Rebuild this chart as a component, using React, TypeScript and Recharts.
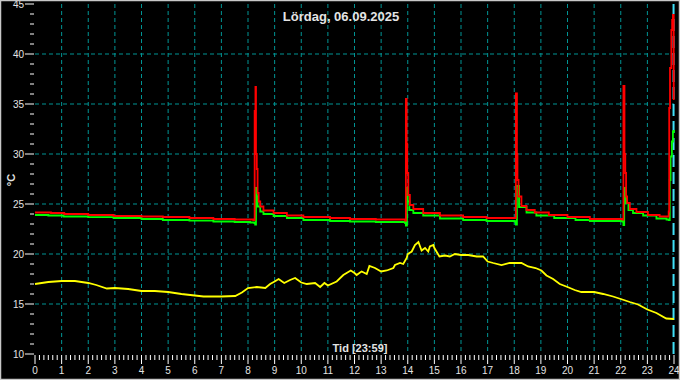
import { CartesianGrid, Line, LineChart, ReferenceLine, XAxis, YAxis } from "recharts";

const HOURS = [0, 1, 2, 3, 4, 5, 6, 7, 8, 9, 10, 11, 12, 13, 14, 15, 16, 17, 18, 19, 20, 21, 22, 23, 24];
const Y_LABELS = [10, 15, 20, 25, 30, 35, 40, 45];
const NOW_HOUR = 23.983;

// outdoor (yellow)
const YELLOW_T = [
  0, 0.25, 0.5, 1, 1.5, 2, 2.3, 2.7, 3, 3.5, 4, 4.5, 5, 5.5, 6, 6.33, 7, 7.52, 7.77, 8, 8.33, 8.65, 8.83,
  9, 9.15, 9.36, 9.58, 9.77, 10, 10.21, 10.52, 10.71, 10.87, 11, 11.33, 11.58, 11.86, 12, 12.08, 12.21,
  12.27, 12.46, 12.56, 12.77, 13, 13.21, 13.46, 13.52, 13.71, 13.83, 13.96, 14, 14.15, 14.27, 14.4, 14.52,
  14.65, 14.77, 14.83, 14.96, 15, 15.19, 15.4, 15.58, 15.77, 16, 16.27, 16.59, 16.83, 17, 17.21, 17.52,
  17.83, 18, 18.27, 18.52, 18.8, 19.02, 19.21, 19.46, 19.71, 20, 20.27, 20.52, 21, 21.34, 21.71, 22, 22.34,
  22.65, 23, 23.34, 23.71, 24,
];
const YELLOW_V = [
  17.0, 17.1, 17.2, 17.3, 17.3, 17.1, 16.9, 16.55, 16.6, 16.5, 16.3, 16.3, 16.2, 16.0, 15.85, 15.75, 15.75,
  15.8, 16.15, 16.6, 16.7, 16.6, 17.0, 17.25, 17.5, 17.1, 17.4, 17.6, 17.15, 17.0, 17.1, 16.7, 17.1, 16.85,
  17.25, 17.9, 18.35, 18.1, 17.9, 18.15, 18.25, 18.0, 18.8, 18.6, 18.25, 18.35, 18.6, 18.9, 19.1, 19.0, 19.6,
  20.0, 20.25, 20.9, 21.2, 20.35, 20.6, 20.25, 20.75, 20.9, 20.6, 19.75, 19.85, 19.75, 20.0, 19.9, 19.9,
  19.75, 19.75, 19.25, 19.1, 18.9, 19.1, 19.1, 19.1, 18.75, 18.6, 18.35, 17.85, 17.5, 17.0, 16.7, 16.4, 16.2,
  16.2, 16.0, 15.75, 15.5, 15.2, 14.95, 14.45, 14.1, 13.55, 13.5,
];

// supply (red)
const RED_T = [
  0, 0.6, 1.1, 2, 2.95, 4, 4.8, 5.8, 6.7, 7.5, 8.2, 8.25, 8.28, 8.3, 8.33, 8.36, 8.4, 8.46, 8.58, 8.96, 9.46,
  10.08, 11.08, 11.83, 12.8, 13.9, 13.93, 13.96, 13.98, 14.02, 14.08, 14.21, 14.58, 15.21, 16.08, 16.96, 18.02,
  18.06, 18.1, 18.12, 18.16, 18.27, 18.46, 18.77, 19.3, 20, 20.84, 21.5, 22.06, 22.1, 22.14, 22.17, 22.2, 22.24,
  22.34, 22.59, 23.02, 23.46, 23.77, 23.8, 23.82, 23.85, 23.9, 23.93, 23.96, 23.99,
];
const RED_V = [
  24.15, 24.1, 24.0, 23.9, 23.8, 23.75, 23.7, 23.6, 23.5, 23.45, 23.4, 34.3, 36.7, 30.0, 28.5, 26.1, 25.25,
  24.75, 24.35, 24.1, 23.85, 23.7, 23.6, 23.5, 23.45, 23.35, 35.5, 31.0, 28.1, 25.9, 24.9, 24.5, 24.1, 23.85,
  23.7, 23.6, 23.6, 36.05, 30.0, 27.4, 25.75, 24.8, 24.4, 24.15, 23.9, 23.7, 23.5, 23.5, 23.45, 36.8, 30.0,
  28.1, 25.75, 25.1, 24.5, 24.2, 23.9, 23.75, 23.75, 24.25, 34.6, 38.6, 42.4, 43.4, 43.9, 35.4,
];

// return (green)
const GREEN_T = [
  0, 0.5, 1.07, 2, 2.95, 4, 4.8, 5.8, 6.7, 7.5, 8.08, 8.24, 8.27, 8.3, 8.33, 8.36, 8.46, 8.58, 8.96, 9.46,
  10.08, 11.08, 11.83, 12.8, 13.9, 13.93, 13.97, 14, 14.06, 14.21, 14.58, 15.21, 16.08, 16.96, 18.02, 18.06,
  18.1, 18.18, 18.46, 18.83, 19.5, 20.3, 20.84, 21.5, 22.06, 22.1, 22.13, 22.2, 22.29, 22.46, 22.84, 23.34,
  23.72, 23.8, 23.84, 23.87, 23.92, 23.96, 24,
];
const GREEN_V = [
  23.9, 23.85, 23.75, 23.68, 23.6, 23.5, 23.4, 23.33, 23.25, 23.2, 23.15, 23.1, 22.95, 26.6, 25.75, 24.75,
  24.25, 24.0, 23.8, 23.6, 23.4, 23.3, 23.25, 23.2, 23.1, 22.85, 26.6, 25.25, 24.4, 24.1, 23.85, 23.55, 23.4,
  23.3, 23.25, 22.95, 26.8, 24.7, 24.15, 23.85, 23.6, 23.4, 23.3, 23.3, 23.25, 22.9, 26.6, 25.1, 24.4, 24.1,
  23.85, 23.55, 23.45, 23.4, 27.4, 29.75, 31.25, 32.25, 32.4,
];

const X_TICKS = HOURS.flatMap((h) => (h === 24 ? [24] : [0, 1, 2, 3, 4, 5].map((k) => h + k / 6)));
const Y_TICKS = Y_LABELS.flatMap((v) => (v === 45 ? [45] : [0, 1, 2, 3, 4].map((k) => v + k)));

const toRows = (t: number[], v: number[]) => t.map((h, i) => ({ h, v: v[i] }));
const yellow = toRows(YELLOW_T, YELLOW_V);
const red = toRows(RED_T, RED_V);
const green = toRows(GREEN_T, GREEN_V);

const GRID = "#009494";
const LABEL = "#e4e4e4";
const FONT = "'Liberation Sans', Arial, sans-serif";

function XTick({ x, y, payload }: any) {
  const major = Math.abs(payload.value - Math.round(payload.value)) < 1e-6;
  return (
    <g>
      <line x1={x} x2={x} y1={y + 1} y2={y + (major ? 10 : 6)} stroke="#ffffff" strokeWidth={1} />
      {major && (
        <text x={x} y={y + 20} textAnchor="middle" fill={LABEL} fontSize={10} fontFamily={FONT}>
          {Math.round(payload.value)}
        </text>
      )}
    </g>
  );
}

function YTick({ x, y, payload }: any) {
  const major = payload.value % 5 === 0;
  return (
    <g>
      <line x1={major ? x - 10 : x - 5} x2={x - 1} y1={y} y2={y} stroke="#ffffff" strokeWidth={1} />
      {major && (
        <text x={x - 11} y={y + 4} textAnchor="end" fill={LABEL} fontSize={10} fontFamily={FONT}>
          {payload.value}
        </text>
      )}
    </g>
  );
}

export default function App() {
  return (
    <div style={{ position: "absolute", left: 0, top: 0, width: 680, height: 380, background: "#000" }}>
      <LineChart width={680} height={380} margin={{ top: 4, right: 6, bottom: 0, left: 0 }}>
        <CartesianGrid
          stroke={GRID}
          strokeDasharray="4 3"
          horizontalValues={[15, 20, 25, 30, 35, 40]}
          verticalValues={HOURS.slice(1, 24)}
        />
        <XAxis
          type="number"
          dataKey="h"
          domain={[0, 24]}
          ticks={X_TICKS}
          interval={0}
          axisLine={false}
          tickLine={false}
          tickSize={0}
          tickMargin={0}
          height={26}
          tick={<XTick />}
          allowDuplicatedCategory={false}
        />
        <YAxis
          type="number"
          domain={[10, 45]}
          ticks={Y_TICKS}
          interval={0}
          axisLine={false}
          tickLine={false}
          tickSize={0}
          tickMargin={0}
          width={35}
          tick={<YTick />}
        />
        <ReferenceLine x={NOW_HOUR} stroke="#40e0f8" strokeWidth={2} strokeDasharray="12 5" />
        <Line data={yellow} dataKey="v" type="linear" stroke="#ffff00" strokeWidth={1.8} dot={false} isAnimationActive={false} />
        <Line data={green} dataKey="v" type="stepAfter" stroke="#00ff00" strokeWidth={1.8} dot={false} isAnimationActive={false} />
        <Line data={red} dataKey="v" type="stepAfter" stroke="#ff0000" strokeWidth={1.8} dot={false} isAnimationActive={false} />
      </LineChart>
      <svg width={680} height={380} style={{ position: "absolute", left: 0, top: 0, pointerEvents: "none" }}>
        <text x={341} y={21} textAnchor="middle" fill={LABEL} fontSize={13} fontWeight="bold" fontFamily={FONT}>
          Lördag, 06.09.2025
        </text>
        <text x={360} y={352} textAnchor="middle" fill={LABEL} fontSize={11} fontWeight="bold" fontFamily={FONT}>
          Tid [23:59]
        </text>
        <text
          x={15}
          y={180}
          textAnchor="middle"
          fill={LABEL}
          fontSize={11}
          fontWeight="bold"
          fontFamily={FONT}
          transform="rotate(-90 15 180)"
        >
          °C
        </text>
        <rect x={0.5} y={0.5} width={679} height={379} fill="none" stroke="#c8c8c8" strokeWidth={1.5} />
      </svg>
    </div>
  );
}
